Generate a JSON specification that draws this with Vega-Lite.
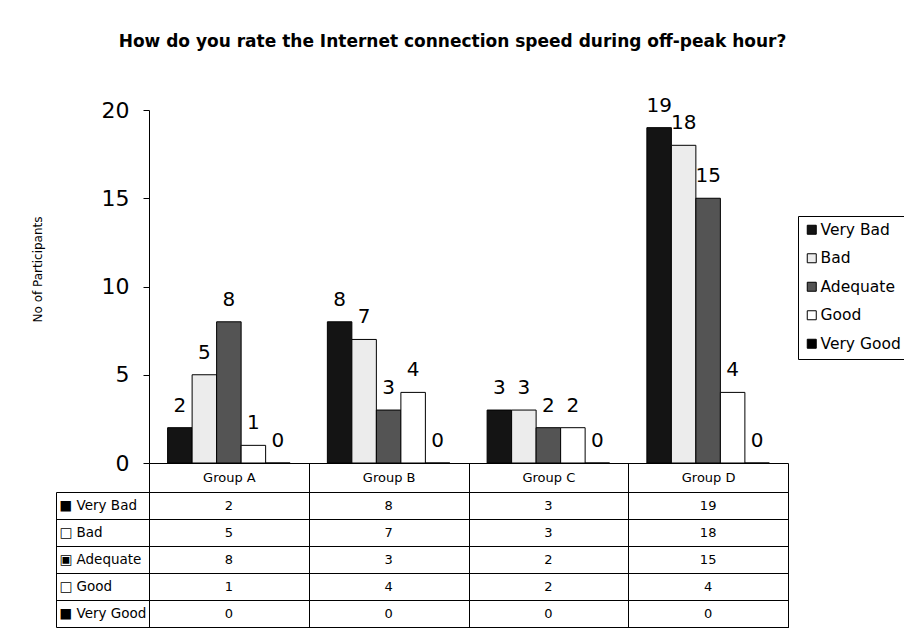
{
  "$schema": "https://vega.github.io/schema/vega-lite/v6.json",
  "padding": {"left": 31, "top": 32, "right": 0, "bottom": 0},
  "background": "white",
  "config": {"font": "DejaVu Sans", "view": {"stroke": null}},
  "data": {"values": [
    {"group": "Group A", "rating": "Very Bad", "value": 2},
    {"group": "Group A", "rating": "Bad", "value": 5},
    {"group": "Group A", "rating": "Adequate", "value": 8},
    {"group": "Group A", "rating": "Good", "value": 1},
    {"group": "Group A", "rating": "Very Good", "value": 0},
    {"group": "Group B", "rating": "Very Bad", "value": 8},
    {"group": "Group B", "rating": "Bad", "value": 7},
    {"group": "Group B", "rating": "Adequate", "value": 3},
    {"group": "Group B", "rating": "Good", "value": 4},
    {"group": "Group B", "rating": "Very Good", "value": 0},
    {"group": "Group C", "rating": "Very Bad", "value": 3},
    {"group": "Group C", "rating": "Bad", "value": 3},
    {"group": "Group C", "rating": "Adequate", "value": 2},
    {"group": "Group C", "rating": "Good", "value": 2},
    {"group": "Group C", "rating": "Very Good", "value": 0},
    {"group": "Group D", "rating": "Very Bad", "value": 19},
    {"group": "Group D", "rating": "Bad", "value": 18},
    {"group": "Group D", "rating": "Adequate", "value": 15},
    {"group": "Group D", "rating": "Good", "value": 4},
    {"group": "Group D", "rating": "Very Good", "value": 0}
  ]},
  "bounds": "flush",
  "spacing": 29,
  "resolve": {"legend": {"color": "independent"}},
  "vconcat": [
    {
      "width": 639,
      "height": 353,
      "title": {"text": "How do you rate the Internet connection speed during off-peak hour?", "fontSize": 17, "fontWeight": "bold", "anchor": "middle", "frame": "group", "dx": -16, "offset": 45, "color": "black", "font": "DejaVu Sans"},
      "encoding": {
        "x": {"field": "group", "type": "nominal", "scale": {"paddingInner": 0, "paddingOuter": 0},
          "axis": {"title": null, "labelAngle": 0, "labelFontSize": 13, "labelColor": "black", "labelPadding": -21, "tickBand": "extent", "tickSize": 29, "tickColor": "black", "domainColor": "black", "labelBaseline": "top"}},
        "xOffset": {"field": "rating", "type": "nominal", "sort": ["Very Bad", "Bad", "Adequate", "Good", "Very Good"], "scale": {"paddingInner": 0, "paddingOuter": 0.76}},
        "y": {"field": "value", "type": "quantitative", "scale": {"domain": [0, 20], "nice": false},
          "axis": {"title": "No of Participants", "titleFontSize": 12, "titleFontWeight": "normal", "titleColor": "black", "titleX": -105, "titleY": 159, "values": [0, 5, 10, 15, 20], "labelFontSize": 22, "labelColor": "black", "labelPadding": 14, "tickSize": 6, "tickColor": "black", "domainColor": "black", "grid": false}}
      },
      "layer": [
        {"mark": {"type": "bar", "stroke": "black", "strokeWidth": 1},
          "encoding": {"color": {"field": "rating", "type": "nominal",
            "scale": {"domain": ["Very Bad", "Bad", "Adequate", "Good", "Very Good"], "range": ["#141414", "#ececec", "#545454", "#ffffff", "#000000"]},
            "legend": {"orient": "none", "legendX": 649, "legendY": 106, "title": null, "labelFontSize": 15.5, "labelColor": "black", "symbolType": "square", "symbolSize": 81, "symbolStrokeColor": "black", "symbolStrokeWidth": 1, "strokeColor": "black", "fillColor": "white", "padding": 6, "rowPadding": 11.5, "labelOffset": 1}}}},
        {"mark": {"type": "text", "baseline": "alphabetic", "dy": -16, "fontSize": 20, "color": "black"},
          "encoding": {"text": {"field": "value", "type": "quantitative"}}}
      ]
    },
    {
      "width": 639,
      "height": 135,
      "view": {"stroke": "black"},
      "encoding": {
        "x": {"field": "group", "type": "nominal", "scale": {"paddingInner": 0, "paddingOuter": 0},
          "axis": {"orient": "top", "title": null, "labels": false, "ticks": false, "domain": false, "grid": true, "gridColor": "black", "gridOpacity": 1, "tickBand": "extent"}},
        "text": {"field": "value", "type": "quantitative"}
      },
      "layer": [
        {"mark": {"type": "text", "fontSize": 13, "color": "black"},
          "encoding": {"y": {"field": "rating", "type": "nominal", "sort": ["Very Bad", "Bad", "Adequate", "Good", "Very Good"], "scale": {"paddingInner": 0, "paddingOuter": 0},
            "axis": {"title": null, "labelExpr": "datum.value == 'Very Bad' ? '■ Very Bad' : datum.value == 'Bad' ? '□ Bad' : datum.value == 'Adequate' ? '▣ Adequate' : datum.value == 'Good' ? '□ Good' : datum.value == 'Very Good' ? '■ Very Good' : ''", "labelAlign": "left", "labelPadding": -3, "labelFontSize": 13.5, "labelColor": "black", "tickSize": 93, "tickBand": "extent", "tickColor": "black", "grid": true, "gridColor": "black", "gridOpacity": 1, "domain": false}}}},
        {"mark": {"type": "text", "opacity": 0},
          "encoding": {"y": {"field": "rating", "type": "nominal", "sort": ["Very Bad", "Bad", "Adequate", "Good", "Very Good"],
            "axis": {"orient": "left", "offset": 93, "title": null, "labels": false, "ticks": false, "grid": false, "domain": true, "domainColor": "black"}}}}
      ],
      "resolve": {"axis": {"y": "independent"}}
    }
  ]
}
